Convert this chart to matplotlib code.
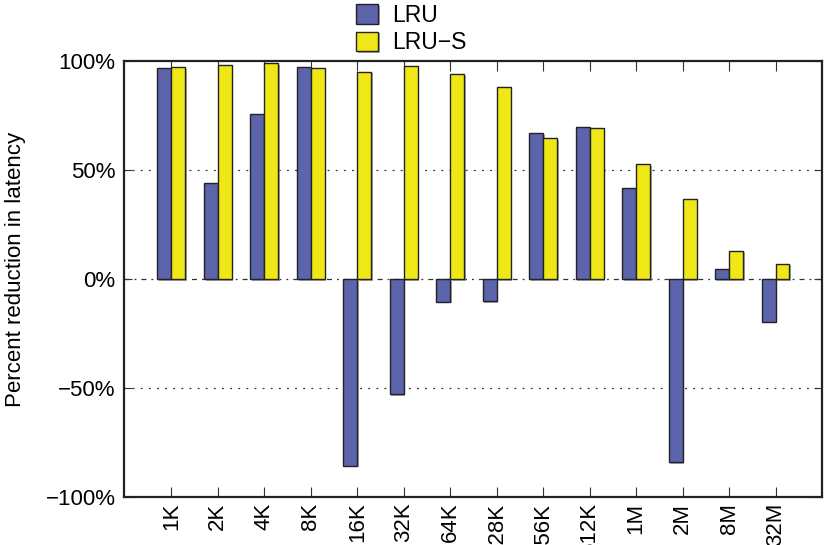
import numpy as np
import matplotlib
matplotlib.use("Agg")
from matplotlib import pyplot as plt
from matplotlib import patheffects as pe
from matplotlib.ticker import FuncFormatter

plt.rcParams["font.family"] = ["Liberation Sans", "DejaVu Sans"]

# cache sizes and latency reduction (%) for the two policies
sizes = ["1K", "2K", "4K", "8K", "16K", "32K", "64K", "128K",
         "256K", "512K", "1M", "2M", "8M", "32M"]
lru = [96.6, 43.9, 75.7, 97.1, -85.6, -52.9, -10.4, -10.2,
       67.0, 69.6, 41.9, -84.1, 4.4, -19.6]
lru_s = [97.1, 98.0, 98.9, 96.6, 95.1, 97.7, 93.9, 88.2,
         64.5, 69.3, 52.6, 36.6, 13.0, 7.0]


def main():
    fig = plt.figure(figsize=(8.25, 5.45), dpi=100)
    ax = fig.add_axes([0.1503, 0.0881, 0.8461, 0.8000])

    x = np.arange(len(sizes))
    w = 0.3
    shadow = [pe.SimplePatchShadow(offset=(1.2, -1.2), shadow_rgbFace="#888888", alpha=0.7),
              pe.Normal()]

    # reference lines behind the bars
    for y in (50, -50):
        ax.axhline(y, color="#333333", lw=0.9, ls=(0, (1.5, 5)), zorder=0)
    ax.axhline(0, color="#333333", lw=0.9, ls=(0, (4, 4, 1.5, 4)), zorder=0)

    b1 = ax.bar(x - w / 2, lru, w, color="#5c64ac", edgecolor="#222222",
                linewidth=1.0, label="LRU", zorder=2)
    b2 = ax.bar(x + w / 2, lru_s, w, color="#f0e816", edgecolor="#222222",
                linewidth=1.0, label="LRU\u2212S", zorder=2)
    for bar in list(b1) + list(b2):
        bar.set_path_effects(shadow)

    ax.set_xlim(-1.02, 14.0)
    ax.set_ylim(-100, 100)
    ax.set_yticks([-100, -50, 0, 50, 100])
    ax.yaxis.set_major_formatter(FuncFormatter(
        lambda v, _: ("\u2212" if v < 0 else "") + "%d%%" % abs(v)))
    ax.set_xticks(x)
    ax.set_xticklabels(sizes, rotation=90)

    ax.tick_params(axis="x", direction="in", length=7, width=0.8,
                   top=True, labelsize=16, pad=4, color="#333333")
    ax.tick_params(axis="y", direction="in", length=6, width=0.8,
                   right=True, labelsize=16, pad=6, color="#333333")
    for sp in ax.spines.values():
        sp.set_linewidth(1.6)
        sp.set_color("#222222")

    fig.text(0.019, 0.505, "Percent reduction in latency", rotation=90,
             ha="center", va="center", fontsize=16)

    fig.legend(handles=[b1, b2], loc="upper left",
               bbox_to_anchor=(0.421, 1.01), frameon=False, fontsize=16.5,
               handlelength=0.95, handleheight=0.95, handletextpad=0.6,
               labelspacing=0.2, borderaxespad=0.0)

    fig.savefig("out.png", dpi=100)


if __name__ == "__main__":
    main()
